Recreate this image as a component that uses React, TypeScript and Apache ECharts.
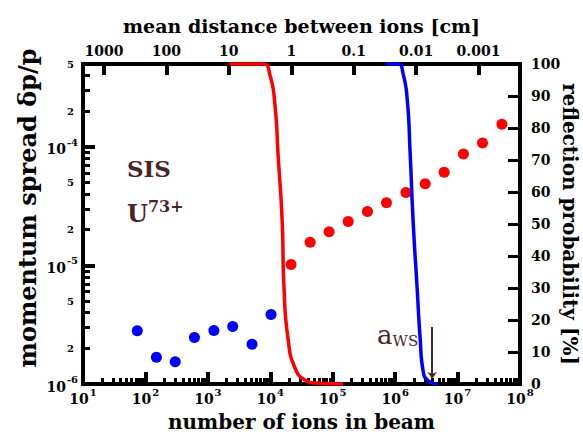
import { useEffect, useRef } from 'react';
import * as echarts from 'echarts';

const RING_CIRCUMFERENCE_CM = 21672;

const blueDotIons = [74, 150, 300, 610, 1250, 2500, 5100, 10300];
const blueDotSpread = [2.81e-6, 1.68e-6, 1.54e-6, 2.47e-6, 2.83e-6, 3.06e-6, 2.16e-6, 3.86e-6];
const redDotIons = [21500, 43500, 87500, 177000, 360000, 726000, 1.49e6, 3.03e6, 6.1e6, 1.24e7, 2.51e7, 5.13e7];
const redDotSpread = [1.02e-5, 1.57e-5, 1.92e-5, 2.35e-5, 2.85e-5, 3.38e-5, 4.12e-5, 4.88e-5, 6.1e-5, 8.71e-5, 1.08e-4, 1.55e-4];
const redCurveIons = [2200, 7700, 9900, 11900, 13300, 15500, 16600, 19300, 24900, 36100, 52200, 147000];
const redCurveProb = [100, 100, 96.5, 87, 72, 51, 30, 14, 5, 1.2, 0.3, 0];
const blueCurveIons = [718000, 1.12e6, 1.34e6, 1.56e6, 1.74e6, 1.94e6, 2.25e6, 2.52e6, 2.81e6, 3.38e6, 4.71e6];
const blueCurveProb = [100, 100, 97, 89, 72, 51, 30, 14, 4, 1, 0];
const aWsIons = 3.92e6;
const aWsArrowSpread = [3.03e-6, 1.1e-6];

const bottomMajorTicks = [10, 100, 1e3, 1e4, 1e5, 1e6, 1e7, 1e8];
const leftMajorTicks = [1e-6, 1e-5, 1e-4];
const leftLabelTicks = [2e-6, 5e-6, 2e-5, 5e-5, 2e-4, 5e-4];
const topDistanceTicks = [1000, 100, 10, 1, 0.1, 0.01, 0.001];
const minorMultipliers = [2, 3, 4, 5, 6, 7, 8, 9];
const bottomDecades = [10, 100, 1e3, 1e4, 1e5, 1e6, 1e7];
const leftDecades = [1e-6, 1e-5, 1e-4];

const bottomMinorTicks = bottomDecades.flatMap((d) => minorMultipliers.map((m) => m * d));
const leftMinorTicks = leftDecades
  .flatMap((d) => minorMultipliers.map((m) => m * d))
  .filter((v) => v <= 5.0001e-4);

const FONT = '"DejaVu Serif"';
const INK = '#000000';
const BROWN = '#4b2428';

const pow10Label = (v: number) => `{b|10}{s|${Math.round(Math.log10(v))}}`;
const supRich = {
  b: { fontFamily: FONT, fontWeight: 'bold', fontSize: 14, color: INK, verticalAlign: 'bottom' },
  s: { fontFamily: FONT, fontWeight: 'bold', fontSize: 10, color: INK, verticalAlign: 'bottom', padding: [0, 0, 9, 1] },
};

const axisLine = { show: true, onZero: false, lineStyle: { color: INK, width: 4, cap: 'square' } };
const nameStyle = { fontFamily: FONT, fontWeight: 'bold', fontSize: 20, color: INK };

function buildOption() {
  return {
    animation: false,
    backgroundColor: '#ffffff',
    grid: { left: 83, right: 63, top: 64, bottom: 59, containLabel: false, outerBoundsMode: 'none' },
    xAxis: [
      {
        type: 'log',
        position: 'bottom',
        min: 10,
        max: 1e8,
        axisLine,
        axisTick: { show: true, inside: true, length: 12, lineStyle: { color: INK, width: 4 }, customValues: bottomMajorTicks },
        axisLabel: { customValues: bottomMajorTicks, margin: 3, formatter: pow10Label, rich: supRich },
        splitLine: { show: false },
        minorTick: { show: false },
        name: 'number of ions in beam',
        nameLocation: 'middle',
        nameGap: 28,
        nameMoveOverlap: false,
        nameTextStyle: nameStyle,
      },
      {
        type: 'log',
        position: 'top',
        min: RING_CIRCUMFERENCE_CM / 1e8,
        max: RING_CIRCUMFERENCE_CM / 10,
        inverse: true,
        axisLine,
        axisTick: { show: true, inside: true, length: 11, lineStyle: { color: INK, width: 4 }, customValues: topDistanceTicks },
        axisLabel: {
          customValues: topDistanceTicks,
          margin: 6,
          fontFamily: FONT,
          fontWeight: 'bold',
          fontSize: 14,
          color: INK,
          formatter: (v: number) => (v >= 1 ? String(Math.round(v)) : String(Number(v.toPrecision(3)))),
        },
        splitLine: { show: false },
        name: 'mean distance between ions [cm]',
        nameLocation: 'middle',
        nameGap: 29,
        nameMoveOverlap: false,
        nameTextStyle: { ...nameStyle, fontSize: 19 },
      },
      {
        type: 'log',
        position: 'bottom',
        min: 10,
        max: 1e8,
        axisLine: { show: false, onZero: false },
        axisTick: { show: true, inside: true, length: 6, lineStyle: { color: INK, width: 3 }, customValues: bottomMinorTicks },
        axisLabel: { show: false },
        splitLine: { show: false },
      },
    ],
    yAxis: [
      {
        type: 'log',
        position: 'left',
        min: 1e-6,
        max: 5e-4,
        axisLine,
        axisTick: { show: true, inside: true, length: 12, lineStyle: { color: INK, width: 4 }, customValues: leftMajorTicks },
        axisLabel: { customValues: leftMajorTicks, margin: 5, formatter: pow10Label, rich: supRich },
        splitLine: { show: false },
        name: 'momentum spread δp/p',
        nameLocation: 'middle',
        nameGap: 44,
        nameMoveOverlap: false,
        nameTextStyle: { ...nameStyle, fontSize: 24, padding: [0, 0, 0, 32] },
      },
      {
        type: 'log',
        position: 'left',
        min: 1e-6,
        max: 5e-4,
        axisLine: { show: false, onZero: false },
        axisTick: { show: true, inside: true, length: 7, lineStyle: { color: INK, width: 3 }, customValues: leftMinorTicks },
        axisLabel: {
          customValues: leftLabelTicks,
          margin: 9,
          fontFamily: FONT,
          fontWeight: 'bold',
          fontSize: 10,
          color: INK,
          formatter: (v: number) => String(Math.round(v / Math.pow(10, Math.floor(Math.log10(v) + 1e-9)))),
        },
        splitLine: { show: false },
      },
      {
        type: 'value',
        position: 'right',
        min: 0,
        max: 100,
        interval: 10,
        axisLine,
        axisTick: { show: true, inside: true, length: 12, lineStyle: { color: INK, width: 3 } },
        axisLabel: { margin: 11, fontFamily: FONT, fontWeight: 'bold', fontSize: 14, color: INK },
        splitLine: { show: false },
        name: 'reflection probability [%]',
        nameLocation: 'middle',
        nameRotate: -90,
        nameGap: 40,
        nameMoveOverlap: false,
        nameTextStyle: nameStyle,
      },
    ],
    series: [
      {
        type: 'scatter',
        xAxisIndex: 0,
        yAxisIndex: 0,
        symbol: 'circle',
        symbolSize: 11,
        itemStyle: { color: '#0000ff', opacity: 1 },
        data: blueDotIons.map((n, i) => [n, blueDotSpread[i]]),
        z: 2,
        markLine: {
          silent: true,
          symbol: ['none', 'arrow'],
          symbolSize: 7,
          lineStyle: { color: BROWN, width: 2, type: 'solid' },
          label: { show: false },
          data: [[{ coord: [aWsIons, aWsArrowSpread[0]] }, { coord: [aWsIons, aWsArrowSpread[1]] }]],
        },
      },
      {
        type: 'scatter',
        xAxisIndex: 0,
        yAxisIndex: 0,
        symbol: 'circle',
        symbolSize: 11,
        itemStyle: { color: '#ff0000', opacity: 1 },
        data: redDotIons.map((n, i) => [n, redDotSpread[i]]),
        z: 2,
      },
      {
        type: 'line',
        xAxisIndex: 0,
        yAxisIndex: 2,
        showSymbol: false,
        smooth: 0.55,
        clip: false,
        lineStyle: { color: '#ff0000', width: 3.5 },
        data: redCurveIons.map((n, i) => [n, redCurveProb[i]]),
        z: 3,
      },
      {
        type: 'line',
        xAxisIndex: 0,
        yAxisIndex: 2,
        showSymbol: false,
        smooth: 0.55,
        clip: false,
        lineStyle: { color: '#0000ff', width: 3.5 },
        data: blueCurveIons.map((n, i) => [n, blueCurveProb[i]]),
        z: 3,
      },
    ],
    graphic: [
      {
        type: 'text',
        left: 127,
        top: 157,
        style: { text: 'SIS', font: `bold 23px ${FONT}`, fill: BROWN },
      },
      {
        type: 'text',
        left: 127,
        top: 198,
        style: {
          text: '{u|U}{s|73+}',
          fill: BROWN,
          rich: {
            u: { font: `bold 24px ${FONT}`, fill: BROWN, verticalAlign: 'bottom' },
            s: { font: `bold 16px ${FONT}`, fill: BROWN, verticalAlign: 'bottom', padding: [0, 0, 11, 0] },
          },
        },
      },
      {
        type: 'text',
        left: 377,
        top: 322,
        style: {
          text: '{a|a}{s|WS}',
          fill: BROWN,
          rich: {
            a: { font: `26px ${FONT}`, fill: BROWN, verticalAlign: 'bottom' },
            s: { font: `15px ${FONT}`, fill: BROWN, verticalAlign: 'bottom', padding: [0, 0, 0, 0] },
          },
        },
      },
    ],
  };
}

export default function App() {
  const ref = useRef<HTMLDivElement>(null);
  useEffect(() => {
    if (!ref.current) return;
    const chart = echarts.init(ref.current, null, { renderer: 'svg' });
    chart.setOption(buildOption() as any);
    return () => chart.dispose();
  }, []);
  return (
    <div
      ref={ref}
      style={{ position: 'fixed', left: 0, top: 0, width: 583, height: 443, background: '#ffffff' }}
    />
  );
}
